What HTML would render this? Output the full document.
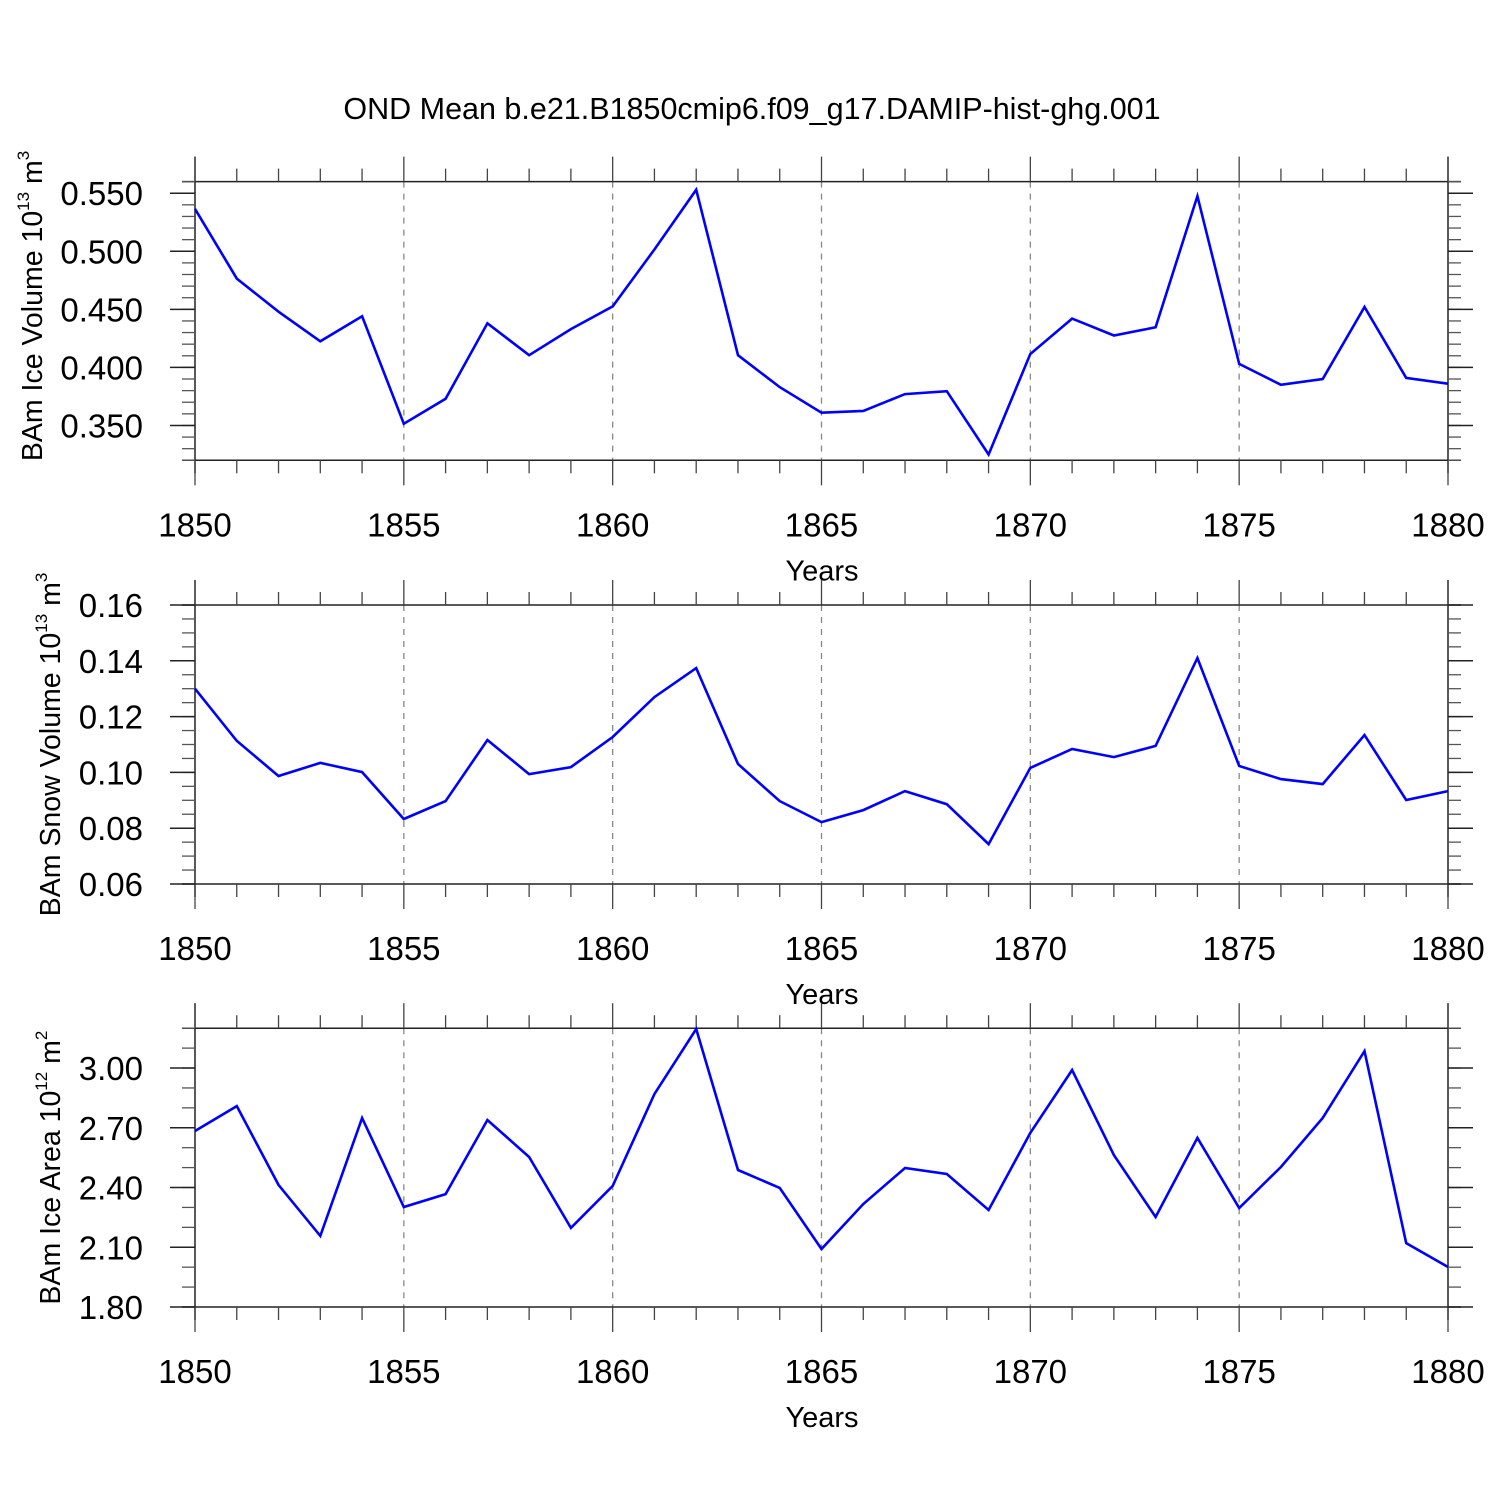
<!DOCTYPE html>
<html><head><meta charset="utf-8"><style>
html,body{margin:0;padding:0;background:#fff}
svg{display:block;font-family:"Liberation Sans",Arial,sans-serif}
</style></head><body>
<svg id="chart" width="1500" height="1500" viewBox="0 0 1500 1500">
<text x="752" y="119" font-size="30.5" text-anchor="middle">OND Mean b.e21.B1850cmip6.f09_g17.DAMIP-hist-ghg.001</text>
</svg>
<script>
const years = [1850,1851,1852,1853,1854,1855,1856,1857,1858,1859,1860,1861,1862,1863,1864,1865,1866,1867,1868,1869,1870,1871,1872,1873,1874,1875,1876,1877,1878,1879,1880];
const iceVolume = [0.5365,0.4765,0.448,0.4225,0.444,0.3515,0.373,0.438,0.4105,0.433,0.4525,0.5015,0.553,0.4105,0.383,0.361,0.3625,0.377,0.3795,0.325,0.4115,0.442,0.4275,0.4345,0.5475,0.403,0.385,0.390,0.452,0.391,0.386];
const snowVolume = [0.130,0.1113,0.0987,0.1034,0.1001,0.0833,0.0897,0.1116,0.0994,0.1019,0.1127,0.127,0.1374,0.103,0.0897,0.0822,0.0865,0.0933,0.0886,0.0743,0.1016,0.1084,0.1055,0.1095,0.141,0.1023,0.0976,0.0958,0.1134,0.0901,0.0933];
const iceArea = [2.684,2.809,2.413,2.157,2.749,2.302,2.367,2.739,2.553,2.197,2.408,2.869,3.196,2.488,2.398,2.091,2.317,2.498,2.468,2.287,2.674,2.99,2.563,2.252,2.649,2.297,2.503,2.749,3.085,2.121,2.001];
const xTickLabels = ["1850","1855","1860","1865","1870","1875","1880"];
const iceVolTicks = ["0.350","0.400","0.450","0.500","0.550"];
const snowVolTicks = ["0.06","0.08","0.10","0.12","0.14","0.16"];
const iceAreaTicks = ["1.80","2.10","2.40","2.70","3.00"];

const svg = document.getElementById('chart');
const NS = 'http://www.w3.org/2000/svg';
function mk(tag, attrs, parent){const e=document.createElementNS(NS,tag);for(const k in attrs)e.setAttribute(k,attrs[k]);(parent||svg).appendChild(e);return e;}
const X0=195, X1=1448, Y0YR=1850, Y1YR=1880;
function xs(yr){return X0+(yr-Y0YR)/(Y1YR-Y0YR)*(X1-X0);}

function panel(cfg){
  const g = mk('g',{});
  
  
  const ys = v => cfg.top + (cfg.ymax - v)/(cfg.ymax - cfg.ymin)*(cfg.bot - cfg.top);
  const ln = (x1,y1,x2,y2,c,w,extra)=>{const l=mk('line',Object.assign({x1,y1,x2,y2,stroke:c||'#000','stroke-width':w||1.5},extra||{}),g);return l;};
  for(let yr=1855; yr<1880; yr+=5){
    const l=ln(xs(yr),cfg.top,xs(yr),cfg.bot,'#888',1.3,{'stroke-dasharray':'6,6'});
    
    
  }
  ln(X0-13,cfg.top,X1+13,cfg.top,'#222',1.5);
  ln(X0-13,cfg.bot,X1+13,cfg.bot,'#222',1.5);
  ln(X0,cfg.top-25,X0,cfg.bot+13,'#222',1.5);
  ln(X1,cfg.top-25,X1,cfg.bot+13,'#222',1.5);
  for(let yr=1850; yr<=1880; yr++){
    const major = (yr%5===0);
    const len = major?25:13;
    ln(xs(yr),cfg.top,xs(yr),cfg.top-len,'#444',1.3);
    ln(xs(yr),cfg.bot,xs(yr),cfg.bot+len,'#444',1.3);
  }
  xTickLabels.forEach(t=>{
    const tx=mk('text',{x:xs(+t),y:cfg.bot+76,'font-size':33,'text-anchor':'middle'},g);
    tx.textContent=t;
    
    
  });
  const xt=mk('text',{x:822,y:cfg.bot+120,'font-size':29,'text-anchor':'middle'},g);
  xt.textContent='Years';
  
  
  const n = Math.round((cfg.ymax-cfg.ymin)/cfg.minor);
  for(let i=0;i<=n;i++){
    const v=cfg.ymin+i*cfg.minor;
    ln(X0,ys(v),X0-13,ys(v),'#555',1.3);
    ln(X1,ys(v),X1+13,ys(v),'#555',1.3);
  }
  cfg.ticks.forEach(t=>{
    const y=ys(parseFloat(t));
    ln(X0,y,X0-25,y,'#222',1.5);
    ln(X1,y,X1+25,y,'#222',1.5);
    const tx=mk('text',{x:X0-52,y:y+12,'font-size':33,'text-anchor':'end'},g);
    tx.textContent=t;
    
    
  });
  const cy=(cfg.top+cfg.bot)/2+cfg.tOff;
  const yt=mk('text',{x:0,y:0,'font-size':28.5,'text-anchor':'middle',transform:`translate(${cfg.tx},${cy}) rotate(-90)`},g);
  yt.innerHTML=cfg.title+' 10<tspan font-size="17" dy="-13">'+cfg.exp+'</tspan><tspan dy="13"> m</tspan><tspan font-size="17" dy="-13">'+cfg.unit+'</tspan>';
  
  
  const pts = years.map((yr,i)=>xs(yr).toFixed(1)+','+ys(cfg.data[i]).toFixed(1)).join(' ');
  const pl=mk('polyline',{points:pts,fill:'none',stroke:'#0000ff','stroke-width':2.6,'stroke-linejoin':'miter'},g);
  
  
}
panel({name:'ice-volume-panel',top:181.6,bot:460.3,ymin:0.32,ymax:0.56,minor:0.01,ticks:iceVolTicks,data:iceVolume,title:'BAm Ice Volume',exp:'13',unit:'3',tx:42,tOff:-15});
panel({name:'snow-volume-panel',top:605,bot:884,ymin:0.06,ymax:0.16,minor:0.005,ticks:snowVolTicks,data:snowVolume,title:'BAm Snow Volume',exp:'13',unit:'3',tx:60,tOff:0});
panel({name:'ice-area-panel',top:1028.2,bot:1307,ymin:1.8,ymax:3.2,minor:0.1,ticks:iceAreaTicks,data:iceArea,title:'BAm Ice Area',exp:'12',unit:'2',tx:60,tOff:0});
</script>
</body></html>
